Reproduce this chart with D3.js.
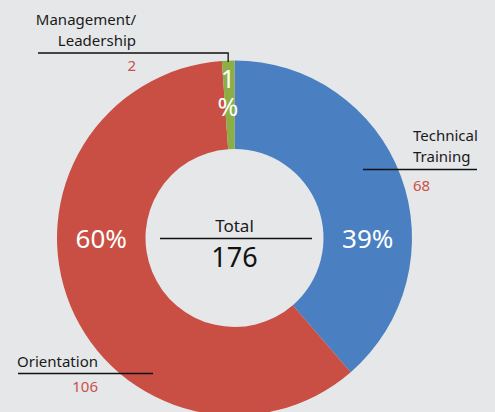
<!DOCTYPE html>
<html>
<head>
<meta charset="utf-8">
<script src="https://cdn.jsdelivr.net/npm/d3@7"></script>
<style>
  html, body { margin: 0; padding: 0; background: #e6e7e9; }
  svg { display: block; font-family: "Noto Sans", sans-serif; }
</style>
</head>
<body>
<div id="chart"></div>
<script>
const categories = ["Technical Training", "Orientation", "Management/Leadership"];
const values = [68, 106, 2];
const pctLabels = ["39%", "60%", "1 %"];
const colors = ["#4a80c2", "#c94f45", "#8cae45"];

(function () {
  const width = 495, height = 412;
  const cx = 234.5, cy = 238, outerR = 177.5, innerR = 89;

  const svg = d3.select("#chart").append("svg")
    .attr("width", width)
    .attr("height", height);

  svg.append("rect").attr("width", width).attr("height", height).attr("fill", "#e6e7e9");

  const g = svg.append("g").attr("transform", `translate(${cx},${cy})`);

  const pie = d3.pie().sort(null).value((d) => d);
  const arcs = pie(values);
  const arc = d3.arc().innerRadius(innerR).outerRadius(outerR);

  g.selectAll("path")
    .data(arcs)
    .join("path")
    .attr("d", arc)
    .attr("fill", (d, i) => colors[i]);

  // percent labels, placed on the horizontal middle of the ring
  const ringMid = (innerR + outerR) / 2;
  g.append("text").attr("x", ringMid).attr("y", 10)
    .attr("text-anchor", "middle").attr("fill", "white").attr("font-size", "26px").text(pctLabels[0]);
  g.append("text").attr("x", -ringMid).attr("y", 10)
    .attr("text-anchor", "middle").attr("fill", "white").attr("font-size", "26px").text(pctLabels[1]);

  // small slice label wraps in two lines (one text, two tspans)
  const small = arcs[2];
  const midA = (small.startAngle + small.endAngle) / 2;
  const sx = Math.sin(midA) * 160 - 1;
  const smallTxt = g.append("text")
    .attr("text-anchor", "middle").attr("fill", "white").attr("font-size", "25px");
  pctLabels[2].split(" ").forEach((part, i) => {
    smallTxt.append("tspan")
      .attr("x", sx)
      .attr("y", -cy + 88 + i * 28)
      .text(part);
  });

  // Callouts
  const line = (pts) => svg.append("polyline")
    .attr("points", pts.map((p) => p.join(",")).join(" "))
    .attr("fill", "none").attr("stroke", "#111").attr("stroke-width", 1.3);

  const label = (x, y, txt, anchor, color, size) => svg.append("text")
    .attr("x", x).attr("y", y).attr("text-anchor", anchor)
    .attr("fill", color || "#1a1a1a").attr("font-size", size || "15px").text(txt);

  // Management/Leadership
  const mx = cx + Math.sin(midA) * outerR;
  label(136, 25, "Management/", "end");
  label(136, 46, "Leadership", "end");
  line([[38, 53], [mx, 53], [mx, 62]]);
  label(136, 71, values[2], "end", "#c9524a");

  // Technical Training
  label(413, 141, "Technical", "start");
  label(413, 162, "Training", "start");
  line([[363, 169.5], [477, 169.5]]);
  label(413, 191, values[0], "start", "#c9524a");

  // Orientation
  label(17, 367, "Orientation", "start");
  line([[18, 373.5], [153, 373.5]]);
  label(98, 392, values[1], "end", "#c9524a");

  // Total in the middle
  label(cx, 232, "Total", "middle", "#1a1a1a", "17px");
  line([[160, 238.5], [312, 238.5]]);
  label(cx, 267, d3.sum(values), "middle", "#111", "27px");
})();
</script>
</body>
</html>
